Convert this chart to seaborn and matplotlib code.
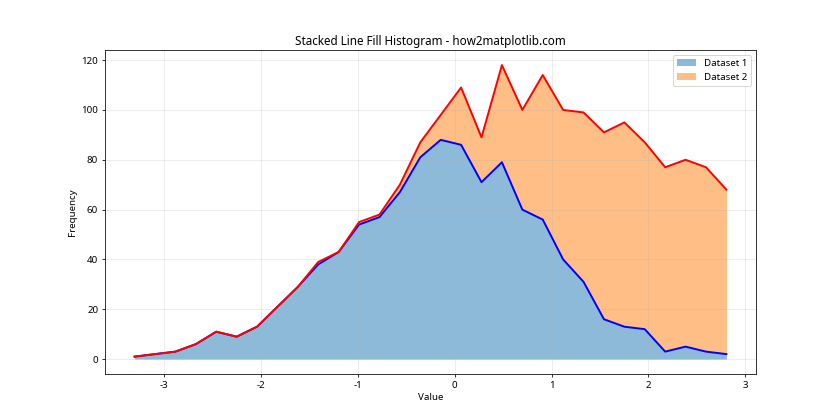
import numpy as np
import matplotlib
matplotlib.use("Agg")
import matplotlib.pyplot as plt
import seaborn as sns

# Histogram bin edges (30 bins)
bin_lo = -3.4126
bin_hi = 2.9113
n_bins = 30

# Counts
dataset1 = [1, 2, 3, 6, 11, 9, 13, 21, 29, 38, 43, 54, 57, 67, 81,
            88, 86, 71, 79, 60, 56, 40, 31, 16, 13, 12, 3, 5, 3, 2]
total = [1, 2, 3, 6, 11, 9, 13, 21, 29, 39, 43, 55, 58, 70, 87,
         98, 109, 89, 118, 100, 114, 100, 99, 91, 95, 87, 77, 80, 77, 68]
dataset2 = [t - a for t, a in zip(total, dataset1)]

labels = ["Dataset 1", "Dataset 2"]

edges = np.linspace(bin_lo, bin_hi, n_bins + 1)
centers = (edges[:-1] + edges[1:]) / 2
d1 = np.array(dataset1)
d2 = np.array(dataset2)

plt.rcParams["font.family"] = ["Noto Sans", "DejaVu Sans"]
plt.rcParams["axes.unicode_minus"] = False
fig, ax = plt.subplots(figsize=(12, 6), dpi=70)

ax.fill_between(centers, 0, d1, alpha=0.5, color="C0", label=labels[0], linewidth=0)
ax.fill_between(centers, d1, d1 + d2, alpha=0.5, color="C1", label=labels[1], linewidth=0)
sns.lineplot(x=centers, y=d1, color="blue", linewidth=2, ax=ax)
sns.lineplot(x=centers, y=d1 + d2, color="red", linewidth=2, ax=ax)

ax.set_title("Stacked Line Fill Histogram - how2matplotlib.com")
ax.set_xlabel("Value")
ax.set_ylabel("Frequency")
ax.legend(loc="upper right")
ax.grid(True, alpha=0.3)

fig.savefig("out.png", dpi=70)
